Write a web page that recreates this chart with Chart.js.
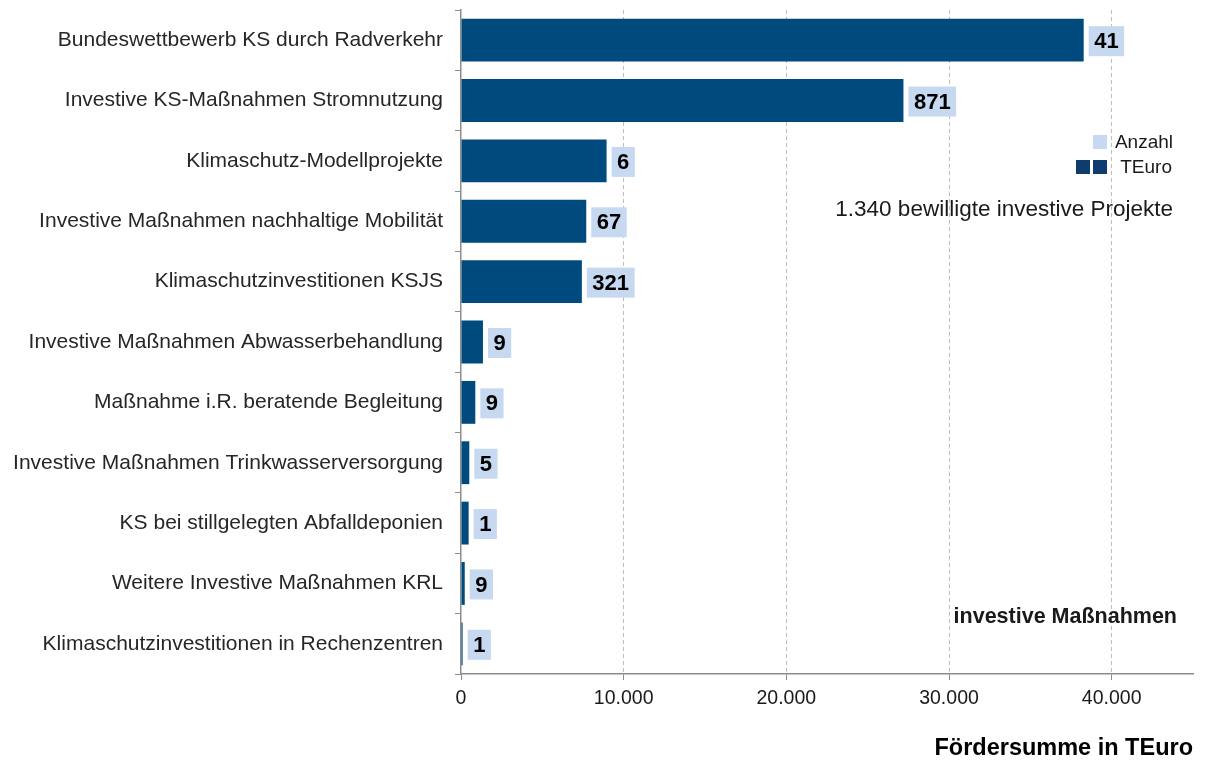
<!DOCTYPE html>
<html lang="de">
<head>
<meta charset="utf-8">
<script src="https://cdn.jsdelivr.net/npm/chart.js@4/dist/chart.umd.min.js"></script>
<style>
  html, body { margin: 0; padding: 0; background: #fff; }
  #wrap { width: 1205px; height: 760px; position: relative; }
</style>
</head>
<body>
<div id="wrap"><canvas id="chart" width="1205" height="760"></canvas></div>
<script>
// --- DATA ---
const categories = [
    'Bundeswettbewerb KS durch Radverkehr',
    'Investive KS-Maßnahmen Stromnutzung',
    'Klimaschutz-Modellprojekte',
    'Investive Maßnahmen nachhaltige Mobilität',
    'Klimaschutzinvestitionen KSJS',
    'Investive Maßnahmen Abwasserbehandlung',
    'Maßnahme i.R. beratende Begleitung',
    'Investive Maßnahmen Trinkwasserversorgung',
    'KS bei stillgelegten Abfalldeponien',
    'Weitere Investive Maßnahmen KRL',
    'Klimaschutzinvestitionen in Rechenzentren'
];
const teuro = [38280, 27200, 8950, 7700, 7430, 1350, 880, 510, 470, 230, 100];
const anzahl = [41, 871, 6, 67, 321, 9, 9, 5, 1, 9, 1];
const xTicks = [0, 10000, 20000, 30000, 40000];

const BAR_COLOR = '#004a7e';
const BOX_COLOR = '#c6d9f1';
const FONT = 'Arial, "Liberation Sans", sans-serif';

// count labels in light boxes right of each bar
const countBoxes = {
    id: 'countBoxes',
    afterDatasetsDraw(chart) {
        const ctx = chart.ctx;
        const meta = chart.getDatasetMeta(0);
        ctx.save();
        ctx.font = 'bold 22px ' + FONT;
        ctx.textBaseline = 'middle';
        ctx.textAlign = 'left';
        meta.data.forEach((bar, i) => {
            const txt = String(anzahl[i]);
            const w = ctx.measureText(txt).width;
            const x0 = bar.x + 5;
            ctx.fillStyle = BOX_COLOR;
            ctx.fillRect(x0, bar.y - 14, w + 11, 30);
            ctx.fillStyle = '#000';
            ctx.fillText(txt, x0 + 5.5, bar.y + 2);
        });
        ctx.restore();
    }
};

// legend + annotations
const extras = {
    id: 'extras',
    afterDraw(chart) {
        const ctx = chart.ctx;
        ctx.save();
        ctx.fillStyle = BOX_COLOR;
        ctx.fillRect(1093, 135, 14, 14);
        ctx.fillStyle = '#0f3b6f';
        ctx.fillRect(1076, 160, 14, 14);
        ctx.fillRect(1093, 160, 14, 14);

        ctx.fillStyle = '#1a1a1a';
        ctx.textAlign = 'right';
        ctx.textBaseline = 'middle';
        ctx.font = '19px ' + FONT;
        ctx.fillText('Anzahl', 1173, 143);
        ctx.fillText('TEuro', 1172, 168);
        ctx.font = '22.5px ' + FONT;
        ctx.fillText('1.340 bewilligte investive Projekte', 1173, 210);
        ctx.font = 'bold 21.5px ' + FONT;
        ctx.fillText('investive Maßnahmen', 1177, 617);
        ctx.restore();
    }
};

new Chart(document.getElementById('chart'), {
    type: 'bar',
    data: {
        labels: categories,
        datasets: [{
            label: 'TEuro',
            data: teuro,
            backgroundColor: BAR_COLOR,
            borderWidth: 0,
            barPercentage: 0.71,
            categoryPercentage: 1
        }]
    },
    options: {
        indexAxis: 'y',
        responsive: false,
        animation: false,
        devicePixelRatio: 1,
        layout: { padding: { top: 10, right: 12, left: 0, bottom: 0 } },
        plugins: { legend: { display: false }, tooltip: { enabled: false } },
        scales: {
            x: {
                min: 0,
                max: 45000,
                afterBuildTicks: (axis) => { axis.ticks = xTicks.map(v => ({ value: v })); },
                ticks: {
                    color: '#1a1a1a',
                    font: { size: 19.5, family: FONT },
                    padding: 7,
                    maxRotation: 0,
                    callback: (v) => v.toLocaleString('de-DE')
                },
                grid: {
                    color: (c) => c.tick && c.tick.value === 0 ? 'rgba(0,0,0,0)' : '#bdbdbd',
                    tickColor: '#8c8c8c',
                    tickLength: 6,
                    lineWidth: 1
                },
                border: { color: '#8c8c8c', width: 1.5, dash: [4, 3] },
                title: {
                    display: true,
                    text: 'Fördersumme in TEuro',
                    align: 'end',
                    color: '#000',
                    font: { size: 23.5, weight: 'bold', family: FONT },
                    padding: { top: 22, bottom: -3 }
                },
                afterFit: (axis) => { axis.height = 86; }
            },
            y: {
                afterFit: (axis) => {
                    axis.width = 461;
                    axis.paddingTop = 0;
                    axis.paddingBottom = 0;
                },
                ticks: {
                    color: '#262626',
                    font: { size: 21, family: FONT },
                    padding: 12
                },
                grid: {
                    drawOnChartArea: false,
                    offset: true,
                    tickColor: '#8c8c8c',
                    tickLength: 6
                },
                border: { color: '#8c8c8c', width: 1.5 }
            }
        }
    },
    plugins: [countBoxes, extras]
});
</script>
</body>
</html>
